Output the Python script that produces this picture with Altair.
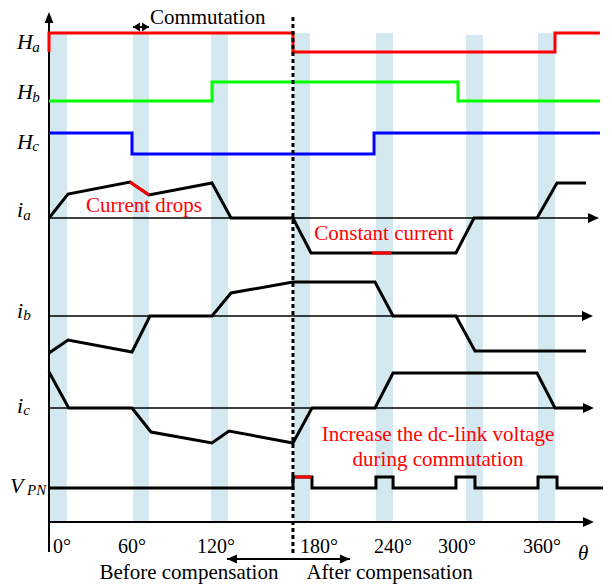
import altair as alt
import pandas as pd

# ---------------- data (theta in electrical degrees, "row" = vertical position level) -------------
# highlighted commutation intervals
band_start = [0.0, 61.8, 119.3, 180.4, 240.7, 307.0, 360.0]
band_end = [13.3, 73.6, 131.8, 192.2, 253.3, 319.5, 372.5]
band_top = [33, 33, 33, 33, 33, 35, 33]
band_bottom = [521] * 7

# Hall signals (state 1 = high)
ha_theta = [0, 0, 179.6, 179.6, 372.5, 372.5, 405.6]
ha_state = [0, 1, 1, 0, 0, 1, 1]
hb_theta = [0, 120, 120, 301.1, 301.1, 405.6]
hb_state = [0, 0, 1, 1, 0, 0]
hc_theta = [0, 61.1, 61.1, 239.3, 239.3, 405.6]
hc_state = [1, 1, 0, 0, 1, 1]
hall_low = {"Ha": 52, "Hb": 101, "Hc": 154}
hall_high = {"Ha": 33, "Hb": 82, "Hc": 133}

# phase currents (level above own baseline)
ia_theta = [0, 14, 59.6, 73.6, 120, 134, 179.6, 192.9, 240, 253, 299.6, 312.9, 359.3, 374, 395.3]
ia_level = [0, 24, 36, 23, 35, 0, 0, -35, -35, -35, -35, 0, 0, 35, 35]
ib_theta = [0, 14, 61.1, 74.3, 120, 134, 179.6, 240, 253.3, 299.6, 313.6, 395.3]
ib_level = [-37, -24, -36, 0, 0, 23, 34, 34, 0, 0, -35, -35]
ic_theta = [0, 14.5, 61.1, 75.1, 120, 132.5, 179.6, 193.6, 240, 253.3, 359.3, 372.5, 395.3]
ic_level = [36, 0, 0, -24, -35, -23, -35, 0, 0, 35, 35, 0, 0]
current_base = {"ia": 218, "ib": 316, "ic": 408}

# dc-link voltage (state 1 = boosted)
vpn_theta = [0, 179.6, 179.6, 193.6, 193.6, 240.7, 240.7, 253.3, 253.3, 299.6, 299.6,
             313.6, 313.6, 360, 360, 374, 374, 407.9]
vpn_state = [0, 0, 1, 1, 0, 0, 1, 1, 0, 0, 1, 1, 0, 0, 1, 1, 0, 0]
vpn_low, vpn_high = 488, 477

# red highlighted pieces
hl_ia1_theta, hl_ia1_level = [59.6, 73.6], [36, 23]
hl_ia2_theta, hl_ia2_level = [237.8, 251.8], [-35, -35]
hl_vpn_theta = [181.0, 193.0]

# axes
axis_rows = [218, 316, 408]
axis_tips = [404.9, 400.5, 401.2]
theta_axis_row, theta_axis_tip = 522, 401.2
vert_axis_rows = [552, 12]
dotted_theta, dotted_rows = 179.6, [17, 553]

# annotations
tick_text = ["0°", "60°", "120°", "180°", "240°", "300°", "360°"]
tick_theta = [2.9, 50.8, 109.0, 184.8, 239.3, 286.4, 349.0]
tick_row = 553

comm_text, comm_theta, comm_row = ["Commutation"], [74.3], [24]
ann_text = ["Current drops", "Constant current",
            "Increase the dc-link voltage", "during commutation",
            "Before compensation", "After compensation"]
ann_theta = [69.9, 246.6, 286.4, 286.4, 103.0, 250.7]
ann_row = [212, 240, 441, 466, 579, 579]
ann_color = ["red", "red", "red", "red", "black", "black"]

lab_main = ["H", "H", "H", "i", "i", "i", "V"]
lab_main_theta = [-23.6, -23.6, -23.6, -23.6, -23.6, -23.6, -28.7]
lab_main_row = [49, 99, 149, 217, 318, 413, 493]
lab_sub = ["a", "b", "c", "a", "b", "c", "PN"]
lab_sub_theta = [-12.3, -12.3, -12.3, -19.0, -19.0, -19.0, -16.2]
lab_sub_row = [52, 102, 151, 220, 320, 415, 495]

comm_arrow_theta, comm_arrow_row = [61.8, 73.6], 27
comp_arrow_theta, comp_arrow_row = [131.0, 221.6], 559

# ---------------- build tables ----------------
def seq(name, thetas, rows):
    return pd.DataFrame({"series": name, "theta": thetas, "row": rows, "order": range(len(thetas))})

hall = pd.concat([
    seq("Ha", ha_theta, [hall_low["Ha"] - s * (hall_low["Ha"] - hall_high["Ha"]) for s in ha_state]),
    seq("Hb", hb_theta, [hall_low["Hb"] - s * (hall_low["Hb"] - hall_high["Hb"]) for s in hb_state]),
    seq("Hc", hc_theta, [hall_low["Hc"] - s * (hall_low["Hc"] - hall_high["Hc"]) for s in hc_state]),
])
traces = pd.concat([
    seq("ia", ia_theta, [current_base["ia"] - v for v in ia_level]),
    seq("ib", ib_theta, [current_base["ib"] - v for v in ib_level]),
    seq("ic", ic_theta, [current_base["ic"] - v for v in ic_level]),
    seq("vpn", vpn_theta, [vpn_low - s * (vpn_low - vpn_high) for s in vpn_state]),
])
highlights = pd.concat([
    seq("h1", hl_ia1_theta, [current_base["ia"] - v for v in hl_ia1_level]),
    seq("h2", hl_ia2_theta, [current_base["ia"] - v for v in hl_ia2_level]),
    seq("h3", hl_vpn_theta, [vpn_high, vpn_high]),
])
thin_axes = pd.concat([
    seq(f"ax{i}", [0, tip - 4], [r, r]) for i, (r, tip) in enumerate(zip(axis_rows, axis_tips))
])
main_axes = pd.concat([
    seq("theta", [0, theta_axis_tip - 4], [theta_axis_row] * 2),
    seq("vert", [0, 0], [vert_axis_rows[0], vert_axis_rows[1] + 6]),
])
dotted = seq("dot", [dotted_theta] * 2, dotted_rows)
small_arrows = pd.concat([
    seq("comm", comm_arrow_theta, [comm_arrow_row] * 2),
    seq("comp", comp_arrow_theta, [comp_arrow_row] * 2),
])

bands = pd.DataFrame({"x1": band_start, "x2": band_end, "y1": band_top, "y2": band_bottom})

right_tips = pd.DataFrame({"theta": axis_tips + [theta_axis_tip],
                           "row": axis_rows + [theta_axis_row]})
up_tip = pd.DataFrame({"theta": [0], "row": [vert_axis_rows[1]]})
comp_tips_r = pd.DataFrame({"theta": [comp_arrow_theta[1]], "row": [comp_arrow_row]})
comp_tips_l = pd.DataFrame({"theta": [comp_arrow_theta[0]], "row": [comp_arrow_row]})
comm_tips_r = pd.DataFrame({"theta": [comm_arrow_theta[1]], "row": [comm_arrow_row]})
comm_tips_l = pd.DataFrame({"theta": [comm_arrow_theta[0]], "row": [comm_arrow_row]})

ticks = pd.DataFrame({"text": tick_text, "theta": tick_theta, "row": [tick_row] * len(tick_text)})
comm = pd.DataFrame({"text": comm_text, "theta": comm_theta, "row": comm_row})
anns = pd.DataFrame({"text": ann_text, "theta": ann_theta, "row": ann_row, "color": ann_color})
labm = pd.DataFrame({"text": lab_main, "theta": lab_main_theta, "row": lab_main_row})
labs = pd.DataFrame({"text": lab_sub, "theta": lab_sub_theta, "row": lab_sub_row})
thl = pd.DataFrame({"text": ["θ"], "theta": [389.5], "row": [560]})

# ---------------- scales ----------------
X = alt.Scale(domain=[-36.074, 414.48], nice=False, zero=False)
Y = alt.Scale(domain=[0, 585], reverse=True, nice=False, zero=False)
x = alt.X("theta:Q", scale=X, axis=None)
y = alt.Y("row:Q", scale=Y, axis=None)
FONT = "Liberation Serif"

band_layer = alt.Chart(bands).mark_rect(color="#d3e9ef").encode(
    x=alt.X("x1:Q", scale=X, axis=None), x2="x2:Q",
    y=alt.Y("y1:Q", scale=Y, axis=None), y2="y2:Q")

def lines(df, **kw):
    return alt.Chart(df).mark_line(**kw).encode(x=x, y=y, detail="series:N", order="order:Q")

hall_layer = alt.Chart(hall).mark_line(strokeWidth=3).encode(
    x=x, y=y, detail="series:N", order="order:Q",
    color=alt.Color("series:N", scale=alt.Scale(domain=["Ha", "Hb", "Hc"],
                                                range=["#ff0000", "#00ff00", "#0000ff"]), legend=None))

trace_layer = lines(traces, color="black", strokeWidth=3)
hl_layer = lines(highlights, color="#ff0000", strokeWidth=3)
thin_layer = lines(thin_axes, color="black", strokeWidth=1.5)
main_ax_layer = lines(main_axes, color="black", strokeWidth=2)
dot_layer = lines(dotted, color="black", strokeWidth=3, strokeDash=[4, 3])
small_arrow_layer = lines(small_arrows, color="black", strokeWidth=2)

RIGHT = "M0,0L-2,-0.9L-2,0.9Z"
LEFT = "M0,0L2,-0.9L2,0.9Z"
UP = "M0,0L-0.8,2L0.8,2Z"

def tips(df, shape, size):
    return alt.Chart(df).mark_point(shape=shape, filled=True, size=size, color="black",
                                    strokeWidth=0, opacity=1).encode(x=x, y=y)

tip_layers = [
    tips(right_tips, RIGHT, 121),
    tips(up_tip, UP, 121),
    tips(comp_tips_r, RIGHT, 100),
    tips(comp_tips_l, LEFT, 100),
    tips(comm_tips_r, "M0,0L-2,-1.3L-2,1.3Z", 49),
    tips(comm_tips_l, "M0,0L2,-1.3L2,1.3Z", 49),
]

tick_layer = alt.Chart(ticks).mark_text(font=FONT, fontSize=20, align="left", baseline="alphabetic",
                                        color="black").encode(x=x, y=y, text="text:N")
comm_layer = alt.Chart(comm).mark_text(font=FONT, fontSize=21, align="left", baseline="alphabetic",
                                       color="black").encode(x=x, y=y, text="text:N")
ann_layer = alt.Chart(anns).mark_text(font=FONT, fontSize=21, align="center", baseline="alphabetic").encode(
    x=x, y=y, text="text:N", color=alt.Color("color:N", scale=None))
labm_layer = alt.Chart(labm).mark_text(font=FONT, fontSize=22, fontStyle="italic", align="left",
                                       baseline="alphabetic", color="black").encode(x=x, y=y, text="text:N")
labs_layer = alt.Chart(labs).mark_text(font=FONT, fontSize=15, fontStyle="italic", align="left",
                                       baseline="alphabetic", color="black").encode(x=x, y=y, text="text:N")
th_layer = alt.Chart(thl).mark_text(font=FONT, fontSize=21, fontStyle="italic", align="left",
                                    baseline="alphabetic", color="black").encode(x=x, y=y, text="text:N")

chart = alt.layer(
    band_layer, thin_layer, main_ax_layer, trace_layer, hl_layer, hall_layer,
    dot_layer, small_arrow_layer, *tip_layers,
    tick_layer, comm_layer, ann_layer, labm_layer, labs_layer, th_layer,
).properties(width=612, height=585, padding=0, autosize=alt.AutoSizeParams(type="none"),
             background="white").configure_view(stroke=None)

chart.save("out.html", embed_options={"renderer": "svg", "actions": False})
